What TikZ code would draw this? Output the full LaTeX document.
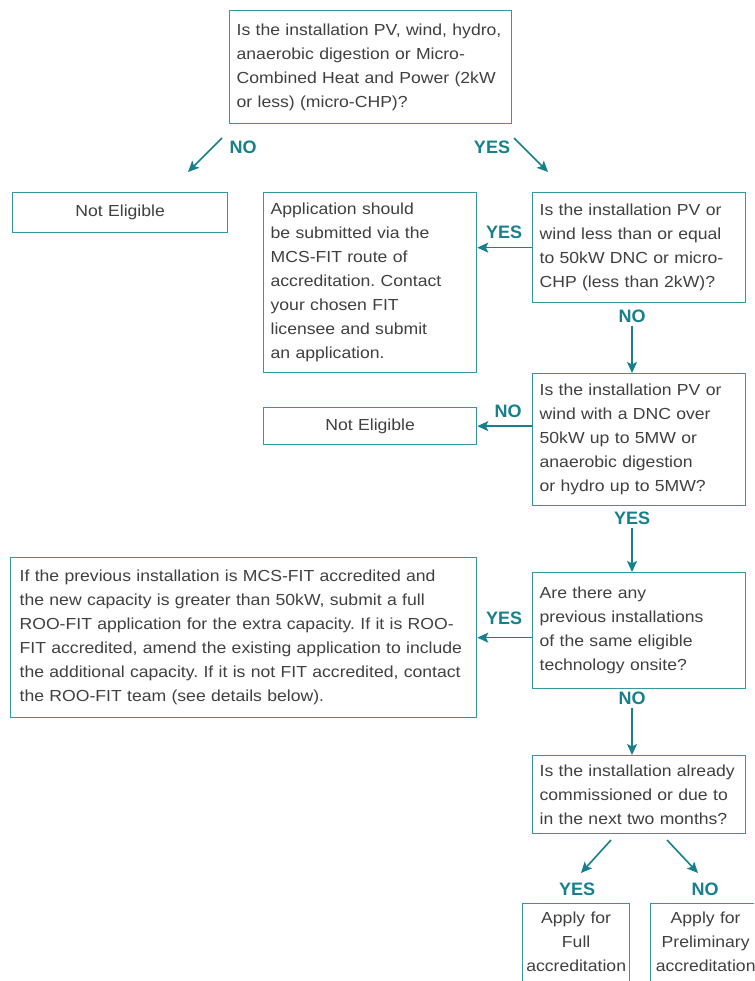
\documentclass[tikz,border=0pt]{standalone}
\usepackage{fontspec}
\setmainfont[FakeStretch=1.1]{Liberation Sans}
\newfontfamily\lblfont{Liberation Sans}
\usetikzlibrary{arrows.meta,positioning}
\frenchspacing

\definecolor{boxteal}{RGB}{52,152,162}
\definecolor{arrteal}{RGB}{22,128,140}
\definecolor{txtgrey}{RGB}{64,64,64}

\tikzset{
  qbox/.style={draw=boxteal, line width=1.3pt, fill=white, anchor=north west,
    align=left, inner xsep=7pt, inner ysep=0pt, text=txtgrey,
    font=\fontsize{16}{24}\selectfont},
  ctrbox/.style={qbox, align=center},
  lbl/.style={text=arrteal, inner sep=1pt,
    font=\lblfont\fontsize{18}{20}\selectfont\bfseries},
  arr/.style={draw=arrteal, line width=1.6pt,
    -{Stealth[length=11pt,width=10pt,inset=2.5pt]}}
}

\begin{document}
\begin{tikzpicture}[x=1pt, y=-1pt]
    \useasboundingbox (0,0) rectangle (754,981);
    \fill[white] (0,0) rectangle (754,981);
    \clip (0,0) rectangle (754,981);

    % boxes
    \node[qbox, text width=268pt, minimum height=113pt] (q1) at (229,10)
      {Is the installation PV, wind, hydro,\\ anaerobic digestion or Micro-\\ Combined Heat and Power (2kW\\ or less) (micro-CHP)?};
    \node[ctrbox, text width=201pt, minimum height=40pt] (ne1) at (12,192) {Not Eligible};
    \node[qbox, text width=199pt, minimum height=180pt] (app) at (263,192)
      {Application should\\ be submitted via the\\ MCS-FIT route of\\ accreditation. Contact\\ your chosen FIT\\ licensee and submit\\ an application.};
    \node[qbox, text width=199pt, minimum height=110pt] (q2) at (532,192)
      {Is the installation PV or\\ wind less than or equal\\ to 50kW DNC or micro-\\ CHP (less than 2kW)?};
    \node[qbox, text width=199pt, minimum height=132pt] (q3) at (532,373)
      {Is the installation PV or\\ wind with a DNC over\\ 50kW up to 5MW or\\ anaerobic digestion\\ or hydro up to 5MW?};
    \node[ctrbox, text width=199pt, minimum height=37pt] (ne2) at (263,407) {Not Eligible};
    \node[qbox, inner xsep=9pt, text width=448pt, minimum height=160pt] (roo) at (10,557)
      {If the previous installation is MCS-FIT accredited and\\ the new capacity is greater than 50kW, submit a full\\ ROO-FIT application for the extra capacity. If it is ROO-\\ FIT accredited, amend the existing application to include\\ the additional capacity. If it is not FIT accredited, contact\\ the ROO-FIT team (see details below).};
    \node[qbox, text width=199pt, minimum height=116pt] (q4) at (532,572)
      {Are there any\\ previous installations\\ of the same eligible\\ technology onsite?};
    \node[qbox, text width=199pt, minimum height=78pt] (q5) at (532,755)
      {Is the installation already\\ commissioned or due to\\ in the next two months?};
    \node[ctrbox, inner xsep=2pt, inner ysep=8pt, text width=103pt] (full) at (522,903)
      {Apply for\\ Full\\ accreditation\\ \mbox{}};
    \node[ctrbox, inner xsep=2pt, inner ysep=8pt, text width=106pt] (prelim) at (650,903)
      {Apply for\\ Preliminary\\ accreditation\\ \mbox{}};

    % labels
    \node[lbl] (no1) at (243,147) {NO};
    \node[lbl] (yes1) at (492,147) {YES};
    \node[lbl] (yes2) at (504,232) {YES};
    \node[lbl] (no2) at (632,316) {NO};
    \node[lbl] (no3) at (508,411) {NO};
    \node[lbl] (yes3) at (632,518) {YES};
    \node[lbl] (yes4) at (504,618) {YES};
    \node[lbl] (no4) at (632,698) {NO};
    \node[lbl] (yes5) at (577,889) {YES};
    \node[lbl] (no5) at (705,889) {NO};

    % free arrow ends
    \coordinate (c1a) at (222,138);
    \coordinate (c1b) at (188,172);
    \coordinate (c2a) at (514,138);
    \coordinate (c2b) at (548,172);
    \coordinate (c5a) at (611,840);
    \coordinate (c5b) at (581,873);
    \coordinate (c6a) at (667,840);
    \coordinate (c6b) at (698,873);

    % arrows
    \draw[arr] (c1a) -- (c1b);
    \draw[arr] (c2a) -- (c2b);
    \draw[arr] (q2.west) -- (q2.west -| app.east);
    \draw[arr, shorten <=2pt] (no2.south) -- (no2.south |- q3.north);
    \draw[arr] (q3.west |- ne2.east) -- (ne2.east);
    \draw[arr, shorten <=2pt] (yes3.south) -- (yes3.south |- q4.north);
    \draw[arr] (q4.west |- roo.east) -- (roo.east);
    \draw[arr, shorten <=2pt] (no4.south) -- (no4.south |- q5.north);
    \draw[arr] (c5a) -- (c5b);
    \draw[arr] (c6a) -- (c6b);
\end{tikzpicture}
\end{document}
